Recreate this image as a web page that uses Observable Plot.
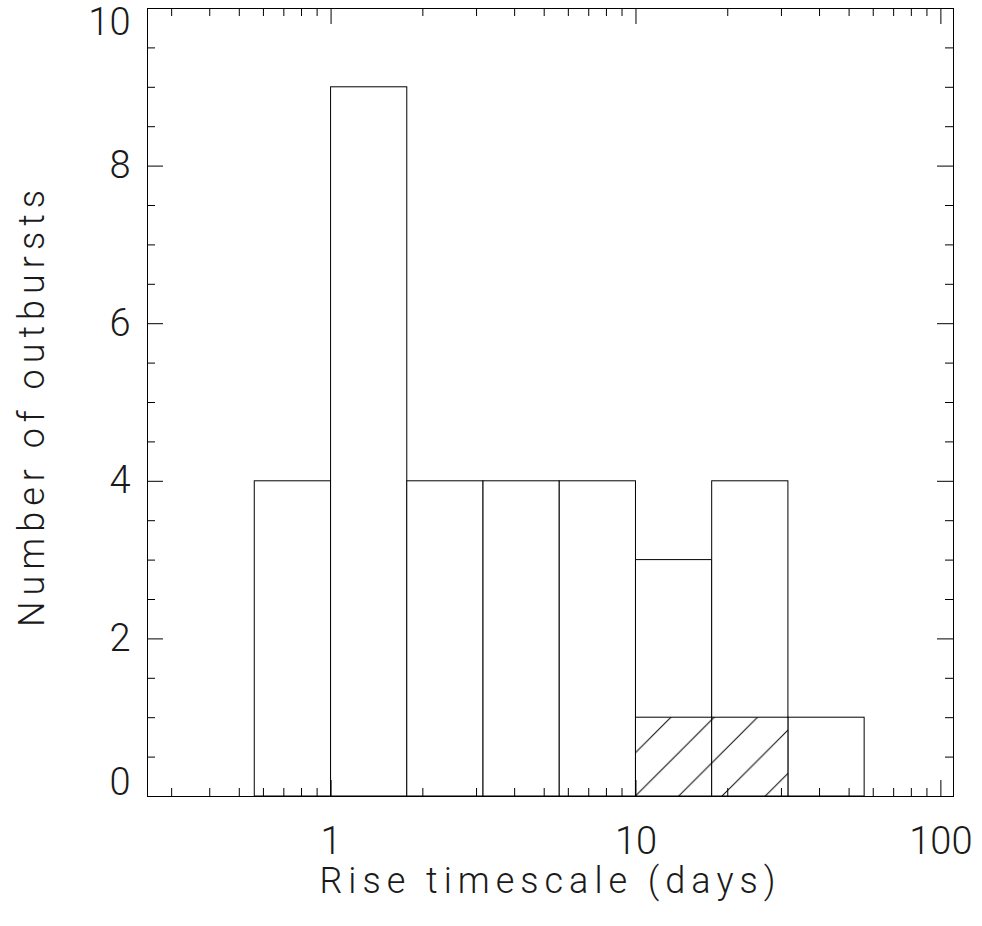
<!DOCTYPE html>
<html><head><meta charset="utf-8">
<script src="https://cdn.jsdelivr.net/npm/d3@7"></script>
<script src="https://cdn.jsdelivr.net/npm/@observablehq/plot@0.6"></script>
<style>
html,body{margin:0;padding:0;background:#fff;}
#chart svg{display:block;}
</style></head><body><div id="chart"></div>
<script>
// Histogram bins (log-spaced edges, days)
const binEdges = [0.562, 1.0, 1.778, 3.162, 5.623, 10.0, 17.78, 31.62, 56.23];
const counts = [4, 9, 4, 4, 4, 3, 4, 1];
const hatchedCounts = [0, 0, 0, 0, 0, 1, 1, 0];

// Axes
const xDomain = [0.25, 110];
const yDomain = [0, 10];
const xMajorTicks = [1, 10, 100];
const xTickLabels = ["1", "10", "100"];
const xMinorTicks = [0.3, 0.4, 0.5, 0.6, 0.7, 0.8, 0.9, 2, 3, 4, 5, 6, 7, 8, 9, 20, 30, 40, 50, 60, 70, 80, 90];
const yMajorTicks = [0, 2, 4, 6, 8, 10];
const yTickLabels = ["0", "2", "4", "6", "8", "10"];
const yMinorTicks = [0.5, 1, 1.5, 2.5, 3, 3.5, 4.5, 5, 5.5, 6.5, 7, 7.5, 8.5, 9, 9.5];
const xTitle = "Rise timescale (days)";
const yTitle = "Number of outbursts";

const bars = counts.map((c, i) => ({x1: binEdges[i], x2: binEdges[i + 1], y: c}));
const hatched = hatchedCounts.map((c, i) => ({x1: binEdges[i], x2: binEdges[i + 1], y: c})).filter(d => d.y > 0);
const xLabels = xMajorTicks.map((v, i) => ({v, label: xTickLabels[i]}));
const yLabels = yMajorTicks.map((v, i) => ({v, label: yTickLabels[i]}));

const W = 982, H = 926, mL = 147, mR = 29, mT = 8, mB = 130;
const fw = W - mL - mR, fh = H - mT - mB;
const major = 16, minor = 8;
const txt = "#1a1a1a";
const font = "Roboto, 'DejaVu Sans', sans-serif";

const plot = Plot.plot({
  width: W, height: H,
  marginLeft: mL, marginRight: mR, marginTop: mT, marginBottom: mB,
  style: {background: "#fff", fontFamily: font, fontWeight: 300, color: txt},
  x: {type: "log", domain: xDomain, axis: null},
  y: {domain: yDomain, axis: null},
  marks: [
    Plot.rectY(bars, {x1: "x1", x2: "x2", y1: 0, y2: "y", fill: "white", stroke: "black", strokeWidth: 1}),
    Plot.rectY(hatched, {x1: "x1", x2: "x2", y1: 0, y2: "y", fill: "url(#hatch)", stroke: "black", strokeWidth: 1}),
    Plot.frame({stroke: "black", strokeWidth: 1}),
    Plot.tickX(xMajorTicks, {x: d => d, insetTop: fh - major, stroke: "black"}),
    Plot.tickX(xMajorTicks, {x: d => d, insetBottom: fh - major, stroke: "black"}),
    Plot.tickX(xMinorTicks, {x: d => d, insetTop: fh - minor, stroke: "black"}),
    Plot.tickX(xMinorTicks, {x: d => d, insetBottom: fh - minor, stroke: "black"}),
    Plot.tickY(yMajorTicks, {y: d => d, insetRight: fw - major, stroke: "black"}),
    Plot.tickY(yMajorTicks, {y: d => d, insetLeft: fw - major, stroke: "black"}),
    Plot.tickY(yMinorTicks, {y: d => d, insetRight: fw - minor, stroke: "black"}),
    Plot.tickY(yMinorTicks, {y: d => d, insetLeft: fw - minor, stroke: "black"}),
    Plot.text(yLabels.filter(d => d.v > yDomain[0] && d.v < yDomain[1]), {y: "v", text: "label", frameAnchor: "left", textAnchor: "end", dx: -17, fontSize: 38, fill: txt}),
    Plot.text(yLabels.filter(d => d.v === yDomain[0]), {y: "v", text: "label", frameAnchor: "left", textAnchor: "end", dx: -17, dy: -14, fontSize: 38, fill: txt}),
    Plot.text(yLabels.filter(d => d.v === yDomain[1]), {y: "v", text: "label", frameAnchor: "left", textAnchor: "end", dx: -17, dy: 14, fontSize: 38, fill: txt}),
    Plot.text(xLabels, {x: "v", text: "label", frameAnchor: "bottom", dy: 57, fontSize: 38, fill: txt}),
    Plot.text([xTitle], {text: d => d, frameAnchor: "bottom", textAnchor: "middle", dy: 96, dx: 0, fontSize: 36, fill: txt}),
    Plot.text([yTitle], {text: d => d, frameAnchor: "left", textAnchor: "middle", rotate: -90, dx: -115, dy: 3, fontSize: 36, fill: txt})
  ]
});

// widen the axis titles
plot.querySelectorAll("text").forEach(t => {
  if (t.textContent === xTitle || t.textContent === yTitle) t.style.letterSpacing = "6px";
});

// hatch pattern aligned to the hatched bars' lower-left corner
const xs = plot.scale("x"), ys = plot.scale("y");
const s = 43.3;
const px = xs.apply(binEdges[5]), py = ys.apply(0);
const ns = "http://www.w3.org/2000/svg";
const defs = document.createElementNS(ns, "defs");
const pat = document.createElementNS(ns, "pattern");
pat.setAttribute("id", "hatch");
pat.setAttribute("patternUnits", "userSpaceOnUse");
pat.setAttribute("width", s); pat.setAttribute("height", s);
pat.setAttribute("x", px); pat.setAttribute("y", py);
const bg = document.createElementNS(ns, "rect");
bg.setAttribute("width", s); bg.setAttribute("height", s); bg.setAttribute("fill", "white");
pat.appendChild(bg);
const path = document.createElementNS(ns, "path");
path.setAttribute("d", `M-1,${s + 1}L${s + 1},-1M-1,1L1,-1M${s - 1},${s + 1}L${s + 1},${s - 1}`);
path.setAttribute("stroke", "black"); path.setAttribute("stroke-width", "1"); path.setAttribute("fill", "none");
pat.appendChild(path);
defs.appendChild(pat);
plot.insertBefore(defs, plot.firstChild);

document.getElementById("chart").appendChild(plot);
</script></body></html>
